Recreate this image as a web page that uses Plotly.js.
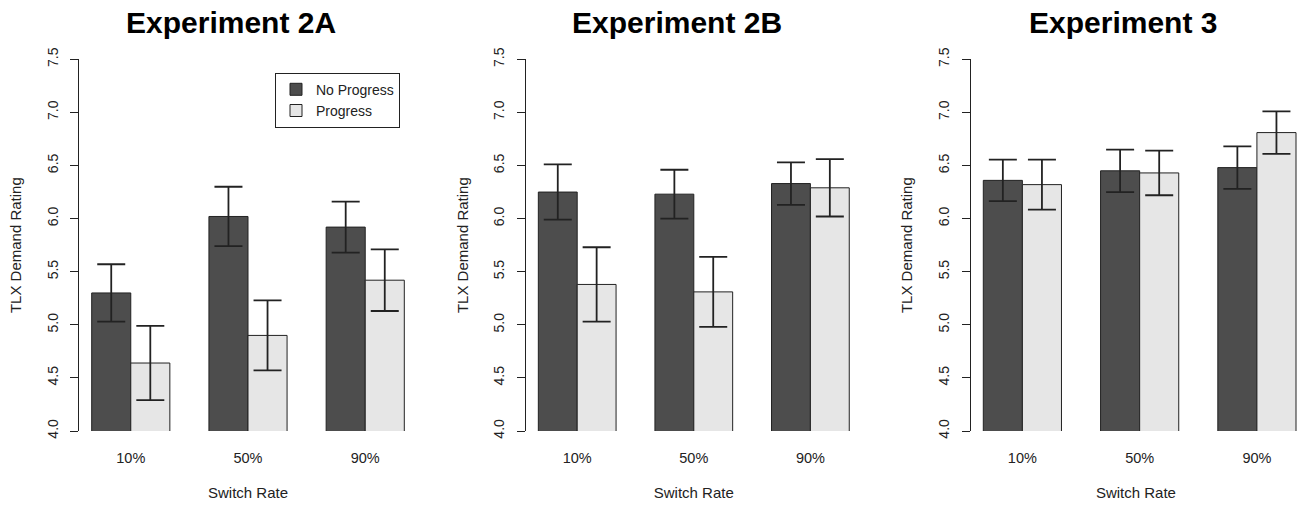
<!DOCTYPE html>
<html>
<head>
<meta charset="utf-8">
<script src="https://cdn.plot.ly/plotly-3.0.1.min.js"></script>
<style>html,body{margin:0;padding:0;background:#fff;}#chart{width:1301px;height:505px;}</style>
</head>
<body>
<div id="chart"></div>
<script>
// ---- data ----
const categories = ['10%', '50%', '90%'];
const seriesNames = ['No Progress', 'Progress'];
const panelTitles = ['Experiment 2A', 'Experiment 2B', 'Experiment 3'];

const exp2A_noProgress = [5.30, 6.02, 5.92];
const exp2A_noProgressErr = [0.27, 0.28, 0.24];
const exp2A_progress = [4.64, 4.90, 5.42];
const exp2A_progressErr = [0.35, 0.33, 0.29];

const exp2B_noProgress = [6.25, 6.23, 6.33];
const exp2B_noProgressErr = [0.26, 0.23, 0.20];
const exp2B_progress = [5.38, 5.31, 6.29];
const exp2B_progressErr = [0.35, 0.33, 0.27];

const exp3_noProgress = [6.36, 6.45, 6.48];
const exp3_noProgressErr = [0.195, 0.20, 0.20];
const exp3_progress = [6.32, 6.43, 6.81];
const exp3_progressErr = [0.235, 0.21, 0.20];

const yTickVals = [4.0, 4.5, 5.0, 5.5, 6.0, 6.5, 7.0, 7.5];
const yTickText = ['4.0', '4.5', '5.0', '5.5', '6.0', '6.5', '7.0', '7.5'];

// ---- styling ----
const W = 1301, H = 505;
const FONT = 'Liberation Sans, Arial, Helvetica, sans-serif';
const colors = ['#4d4d4d', '#e6e6e6'];

const panels = [
  {nop: exp2A_noProgress, nopE: exp2A_noProgressErr, p: exp2A_progress, pE: exp2A_progressErr,
   dom: [79.2 / W, 416.8 / W], xr: [-0.44, 2.44], titleX: 230.7},
  {nop: exp2B_noProgress, nopE: exp2B_noProgressErr, p: exp2B_progress, pE: exp2B_progressErr,
   dom: [525.9 / W, 861.7 / W], xr: [-0.44, 2.44], titleX: 676.7},
  {nop: exp3_noProgress, nopE: exp3_noProgressErr, p: exp3_progress, pE: exp3_progressErr,
   dom: [970.8 / W, 1], xr: [-0.44, 2.376], titleX: 1122.5}
];

const yDom = [1 - 431 / H, 1 - 59.3 / H];

const traces = [];
const layout = {
  width: W, height: H,
  margin: {l: 0, r: 0, t: 0, b: 0},
  paper_bgcolor: '#fff', plot_bgcolor: '#fff',
  barmode: 'group', bargap: 1 / 3, bargroupgap: 0,
  font: {family: FONT, color: '#222', size: 14},
  showlegend: true,
  legend: {
    x: 275 / W, y: 1 - 72.7 / H, xanchor: 'left', yanchor: 'top',
    bordercolor: '#222', borderwidth: 1, bgcolor: '#fff',
    font: {family: FONT, size: 14, color: '#222'},
    traceorder: 'normal', tracegroupgap: 0
  },
  annotations: []
};

panels.forEach((pn, i) => {
  const sx = i === 0 ? '' : String(i + 1);
  const xa = 'x' + sx, ya = 'y' + sx;
  const vals = [pn.nop, pn.p];
  const errs = [pn.nopE, pn.pE];
  for (let s = 0; s < 2; s++) {
    traces.push({
      type: 'bar', x: categories, y: vals[s], name: seriesNames[s],
      xaxis: xa, yaxis: ya, showlegend: i === 0, legendgroup: seriesNames[s],
      marker: {color: colors[s], line: {color: '#222', width: 1}},
      error_y: {type: 'data', array: errs[s], visible: true, color: '#222', thickness: 1.8, width: 14},
      hoverinfo: 'skip'
    });
  }
  layout['xaxis' + sx] = {
    domain: pn.dom, anchor: ya, type: 'category', range: pn.xr,
    showline: false, ticks: '', showgrid: false, zeroline: false,
    tickfont: {family: FONT, size: 14.5, color: '#222'}, ticklabelstandoff: 16,
    title: {text: 'Switch Rate', font: {family: FONT, size: 15, color: '#222'}, standoff: 22},
    automargin: false, fixedrange: true
  };
  layout['yaxis' + sx] = {
    domain: yDom, anchor: xa, range: [4, 7.5],
    showline: true, linecolor: '#222', linewidth: 1,
    ticks: 'outside', ticklen: 8, tickcolor: '#222', tickwidth: 1,
    tickvals: yTickVals, ticktext: yTickText, tickangle: -90,
    tickfont: {family: FONT, size: 14, color: '#222'}, ticklabelstandoff: 7,
    showgrid: false, zeroline: false,
    title: {text: 'TLX Demand Rating', font: {family: FONT, size: 15, color: '#222'}, standoff: 19},
    automargin: false, fixedrange: true
  };
  layout.annotations.push({
    text: '<b>' + panelTitles[i] + '</b>', xref: 'paper', yref: 'paper',
    x: pn.titleX / W, y: 1 - 22 / H, xanchor: 'center', yanchor: 'middle',
    showarrow: false, font: {family: FONT, size: 30, color: '#000'}
  });
});

Plotly.newPlot('chart', traces, layout, {displayModeBar: false, staticPlot: true});
</script>
</body>
</html>
